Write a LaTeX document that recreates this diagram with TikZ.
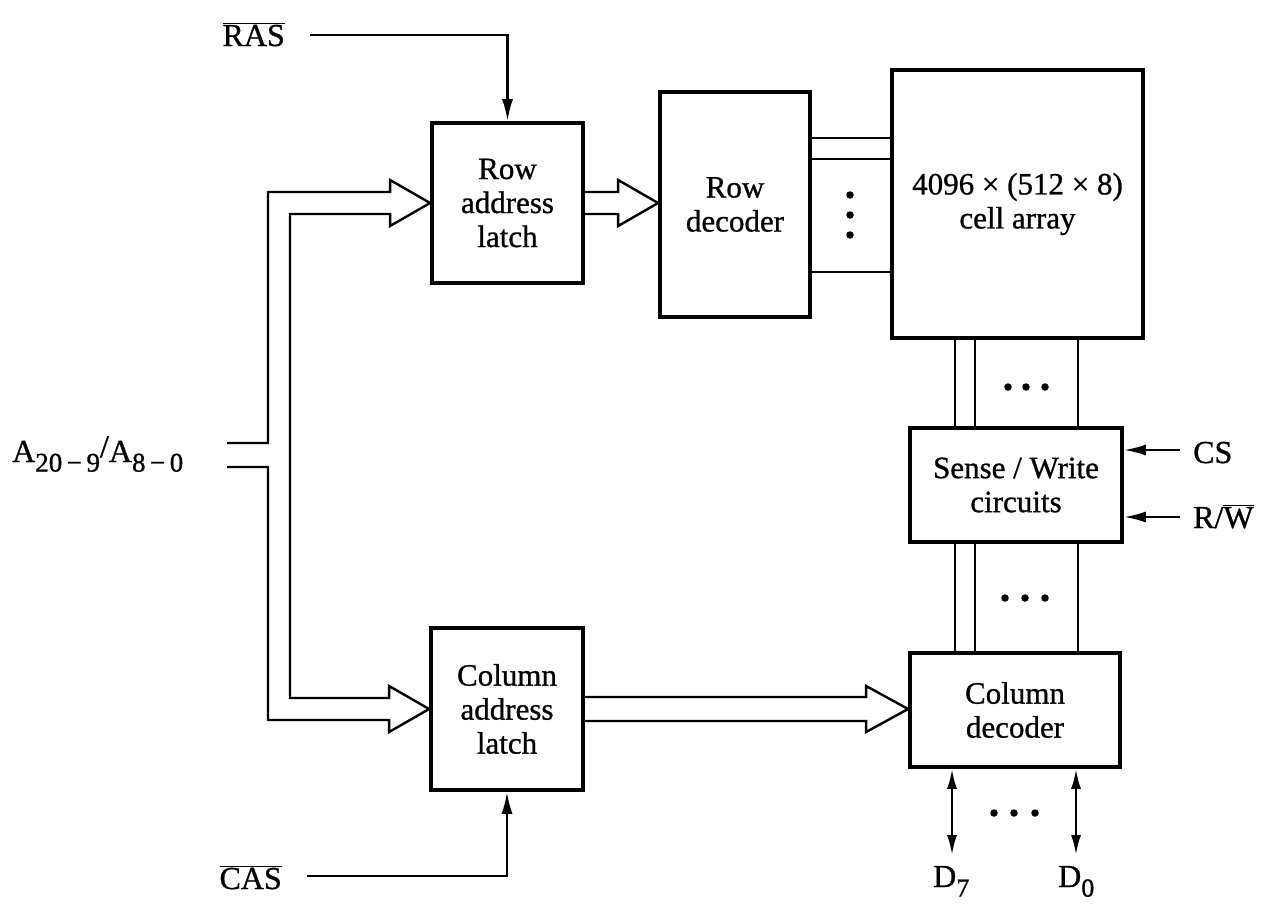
\documentclass[tikz,border=0pt]{standalone}
\usepackage{fontspec}
\setmainfont{Liberation Serif}[FakeBold=0.9]
\usetikzlibrary{calc,arrows.meta}
\begin{document}
\begin{tikzpicture}[x=1pt,y=-1pt,
  blk/.style={draw, line width=3.8pt, inner sep=0pt, align=center, font=\fontsize{31}{34}\selectfont},
  wire/.style={line width=2.4pt, line join=miter},
  sig/.style={wire, -{Latex[length=22pt,width=11pt]}},
  bidir/.style={wire, {Latex[length=20pt,width=10pt]}-{Latex[length=20pt,width=10pt]}},
  lbl/.style={inner sep=0pt, font=\fontsize{32}{34}\selectfont},
  dot/.style={circle, fill, inner sep=0pt, minimum size=7.5pt}
]
\useasboundingbox (0,0) rectangle (1273,903);

% blocks
\node[blk, minimum width=151pt, minimum height=160pt] (ral) at (507.5,203) {Row\\address\\latch};
\node[blk, minimum width=150pt, minimum height=225pt] (rdec) at (735,204.5) {Row\\decoder};
\node[blk, minimum width=251pt, minimum height=268pt] (cell) at (1017.5,204) {4096 × (512 × 8)\\cell array};
\node[blk, minimum width=212pt, minimum height=114pt] (sw) at (1016,485) {Sense / Write\\circuits};
\node[blk, minimum width=210pt, minimum height=114pt] (cdec) at (1015,710) {Column\\decoder};
\node[blk, minimum width=152pt, minimum height=162pt] (cal) at (507,709) {Column\\address\\latch};

% labels
\node[lbl, anchor=base east] (ras) at (285,46) {$\overline{\mbox{RAS}}$};
\node[lbl, anchor=base east] (cas) at (282,889) {$\overline{\mbox{CAS}}$};
\node[lbl, anchor=base west] (addr) at (12,462) {A\raisebox{-0.3em}{\fontsize{27}{27}\selectfont 20\,−\,9}\raisebox{0.15em}{/}A\raisebox{-0.3em}{\fontsize{27}{27}\selectfont 8\,−\,0}};
\node[lbl, anchor=base west] (cs) at (1193,463) {CS};
\node[lbl, anchor=base west] (rw) at (1193,528) {R/$\overline{\mbox{W}}$};
\node[lbl, anchor=base west] (d7) at (933,887) {D\raisebox{-0.3em}{\fontsize{26}{26}\selectfont 7}};
\node[lbl, anchor=base west] (d0) at (1058,887) {D\raisebox{-0.3em}{\fontsize{26}{26}\selectfont 0}};

% control signals
\coordinate (rasw) at (310,35);
\coordinate (casw) at (307,876);
\draw[sig] (rasw) -| (ral.north);
\draw[sig] (casw) -| (cal.south);
\coordinate (csw) at (1180,450);
\coordinate (rww) at (1180,517);
\draw[sig] (csw) -- (sw.east |- csw);
\draw[sig] (rww) -- (sw.east |- rww);

% address bus (hollow arrows)
\coordinate (busA) at (227,443);
\coordinate (busB) at (227,467);
\draw[wire] (busA) -- (268,443) -- (268,192) -- ($(ral.west)+(-40,-11)$) -- ++(0,-12) -- (ral.west)
  -- ($(ral.west)+(-40,23)$) -- ++(0,-12) -- (290,214) -- (290,698)
  -- ($(cal.west)+(-40,-11)$) -- ++(0,-12) -- (cal.west)
  -- ($(cal.west)+(-40,23)$) -- ++(0,-12) -- (268,720) -- (268,467) -- (busB);

% row latch -> row decoder
\coordinate (rtip) at (rdec.west |- ral.east);
\draw[wire] ($(ral.east)+(0,-11)$) -- ($(rtip)+(-40,-11)$) -- ++(0,-12) -- (rtip)
  -- ($(rtip)+(-40,23)$) -- ++(0,-12) -- ($(ral.east)+(0,11)$);

% column latch -> column decoder
\coordinate (ctip) at (cdec.west |- cal.east);
\draw[wire] ($(cal.east)+(0,-12)$) -- ($(ctip)+(-42,-12)$) -- ++(0,-11) -- (ctip)
  -- ($(ctip)+(-42,23)$) -- ++(0,-11) -- ($(cal.east)+(0,12)$);

% row lines between decoder and cell array
\foreach \yy in {138,159,272} \draw[wire] (rdec.east |- 0,\yy) -- (cell.west |- 0,\yy);
\foreach \yy in {195,215,235} \node[dot] at (850,\yy) {};

% column lines
\foreach \xx in {955,975,1078} {
  \draw[wire] (cell.south -| \xx,0) -- (sw.north -| \xx,0);
  \draw[wire] (sw.south -| \xx,0) -- (cdec.north -| \xx,0);
}
\foreach \xx in {1008,1026,1045} \node[dot] at (\xx,387) {};
\foreach \xx in {1005,1025,1045} \node[dot] at (\xx,598) {};

% data lines
\draw[bidir] (cdec.south -| 952,0) -- (952,855);
\draw[bidir] (cdec.south -| 1076,0) -- (1076,855);
\foreach \xx in {994,1014,1035} \node[dot] at (\xx,813) {};
\end{tikzpicture}
\end{document}
